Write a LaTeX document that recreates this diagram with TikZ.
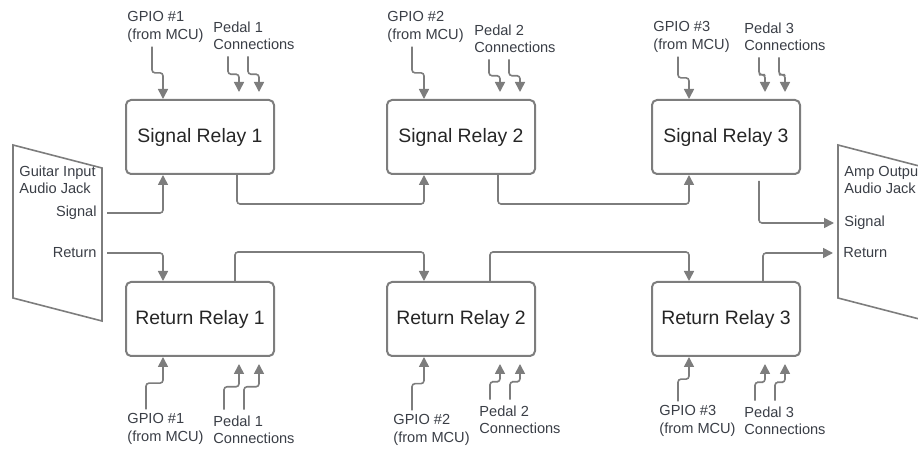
\documentclass[tikz,border=0pt]{standalone}
\usepackage{fontspec}
\setmainfont{Liberation Sans}
\usetikzlibrary{arrows.meta,calc}
\definecolor{wiregray}{RGB}{125,125,125}
\definecolor{textgray}{RGB}{58,62,70}
\newcommand{\bentwire}[2]{\draw[wire] (#1) |- ($(#1)!0.5!(#2)$) -| (#2);}

\begin{document}
\begin{tikzpicture}[x=0.5pt,y=-0.5pt,
    relay/.style={draw=wiregray, line width=1pt, rounded corners=2.5pt, minimum width=74pt, minimum height=37pt, text=black!85, font=\fontsize{9.7}{11}\selectfont},
    lbl/.style={anchor=west, align=left, inner sep=0pt, text=textgray, font=\fontsize{7.3}{8.7}\selectfont},
    jacklbl/.style={lbl, inner xsep=5pt},
    wire/.style={draw=wiregray, line width=0.8pt, rounded corners=1.5pt, -{Triangle[width=5pt,length=5pt]}},
    jack/.style={draw=wiregray, line width=0.8pt}]
\useasboundingbox (0,0) rectangle (918,449);
\clip (0,0) rectangle (918,449);
%audio jacks
\draw[jack] (13,145) -- (102,168) -- (102,321) -- (13,298) -- cycle;
\draw[jack] (838,145) -- (927,168) -- (927,321) -- (838,298) -- cycle;
\node[lbl] (injack) at (19,180) {Guitar Input\\Audio Jack};
\node[jacklbl, anchor=east] (insig) at (107,213) {Signal};
\node[jacklbl, anchor=east] (inret) at (107,253) {Return};
\node[lbl] (outjack) at (844,180) {Amp Output\\Audio Jack};
\node[jacklbl] (outsig) at (834,223) {Signal};
\node[jacklbl] (outret) at (833,253) {Return};
%relays with their control and pedal lines
\foreach \n/\x/\gtx/\gty/\ptx/\pty/\gbx/\gby/\pbx/\pby in {1/200/127/27/213/36/127/429/213/430, 2/461/387/27/474/39/393/430/479/420, 3/726/653/37/744/37/659/421/744/421}{
  \node[relay] (sr\n) at (\x,137) {Signal Relay \n};
  \node[relay] (rr\n) at (\x,319) {Return Relay \n};
  \node[lbl] (gt\n) at (\gtx,\gty) {GPIO \#\n\\(from MCU)};
  \node[lbl] (pt\n) at (\ptx,\pty) {Pedal \n\\Connections};
  \node[lbl] (gb\n) at (\gbx,\gby) {GPIO \#\n\\(from MCU)};
  \node[lbl] (pb\n) at (\pbx,\pby) {Pedal \n\\Connections};
  %gpio in
  \coordinate (gts\n) at ($(gt\n.south west)+(25,4)$);
  \coordinate (gte\n) at ($(sr\n.north)+(-37,0)$);
  \bentwire{gts\n}{gte\n}
  \coordinate (gbs\n) at ($(gb\n.north west)+(19,-4)$);
  \coordinate (gbe\n) at ($(rr\n.south)+(-37,0)$);
  \bentwire{gbs\n}{gbe\n}
  %pedal in
  \foreach \d in {0,20}{
    \coordinate (pts\n\d) at ($(pt\n.south west)+(15+\d,6)$);
    \coordinate (pte\n\d) at ($(sr\n.north)+(39+\d,-7)$);
    \bentwire{pts\n\d}{pte\n\d}
    \coordinate (pbs\n\d) at ($(pb\n.north west)+(11+\d,-6)$);
    \coordinate (pbe\n\d) at ($(rr\n.south)+(39+\d,7)$);
    \bentwire{pbs\n\d}{pbe\n\d}
  }
}
%signal path
\draw[wire] (insig.east) -| ($(sr1.south)+(-37,0)$);
\draw[wire] ($(sr1.south)+(37,0)$) -- ++(0,29) -| ($(sr2.south)+(-37,0)$);
\draw[wire] ($(sr2.south)+(37,0)$) -- ++(0,29) -| ($(sr3.south)+(-37,0)$);
\draw[wire] ($(sr3.south)+(33,6)$) |- (outsig.west);
%return path
\draw[wire] (inret.east) -| ($(rr1.north)+(-37,0)$);
\draw[wire] ($(rr1.north)+(35,0)$) -- ++(0,-29) -| ($(rr2.north)+(-37,0)$);
\draw[wire] ($(rr2.north)+(29,0)$) -- ++(0,-29) -| ($(rr3.north)+(-37,0)$);
\draw[wire] ($(rr3.north)+(37,0)$) |- (outret.west);
\end{tikzpicture}
\end{document}
